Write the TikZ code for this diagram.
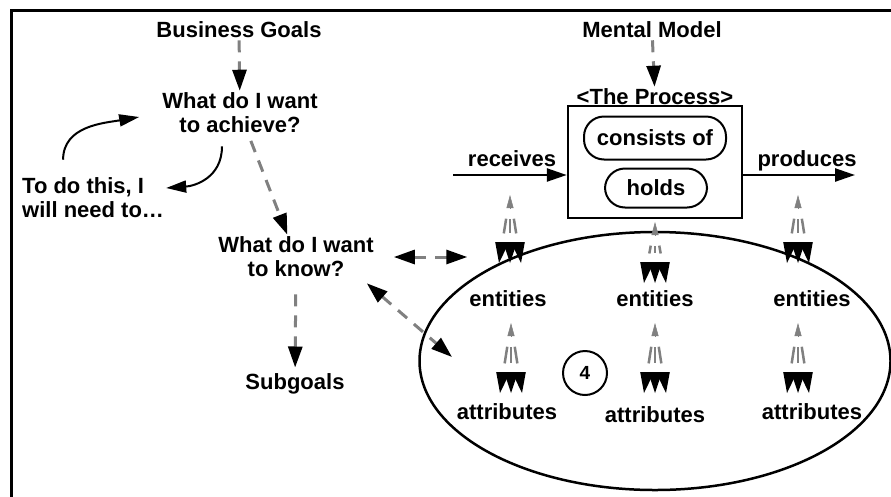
\documentclass[tikz,border=0pt]{standalone}
\usepackage{fontspec}
\setmainfont{Liberation Sans}
\usetikzlibrary{arrows.meta,shapes.geometric,calc}

% one-to-many link: x, top, bottom
\newcommand{\fan}[3]{%
  \draw[graytip] (#1,#2+13) -- (#1,#2);
  \foreach \dx in {-11,0,11}{
    \draw[fanline] ($(#1,#2)!24pt!(#1+\dx,#3)$) -- ($(#1+\dx,#3)!30pt!(#1,#2)$);
    \fill (#1+\dx,#3) -- (#1+0.71*\dx-7,#3-21) -- (#1+0.71*\dx+7,#3-21) -- cycle;
  }}

\begin{document}
\begin{tikzpicture}[x=1pt,y=-1pt,
  txt/.style={font=\fontsize{22}{24}\selectfont\bfseries, inner sep=2pt, align=center},
  dlink/.style={draw=gray, line width=3pt, dash pattern=on 12pt off 9pt,
    -{Triangle[length=21pt,width=14pt,color=black,fill=black]}},
  ddlink/.style={dlink, {Triangle[length=21pt,width=14pt,color=black,fill=black]}-{Triangle[length=21pt,width=14pt,color=black,fill=black]}},
  flow/.style={line width=2.5pt, -{Triangle[length=20pt,width=13pt]}},
  loopline/.style={line width=2pt, -{Triangle[length=20pt,width=12pt]}},
  fanline/.style={draw=gray, line width=2.5pt},
  graytip/.style={draw=gray, line width=0.5pt, -{Triangle[length=13pt,width=7pt,color=gray,fill=gray]}},
  pill/.style={txt, draw, line width=2pt, rounded corners=20pt}]
\useasboundingbox (0,0) rectangle (891,496);
%\draw[help lines,step=50] (0,0) grid (891,496);
\draw[line width=3pt] (11,505) -- (11,10) -- (900,10);

\node[txt] (bgoals) at (239,30) {Business Goals};
\node[txt] (achieve) at (240,113) {What do I want\\to achieve?};
\node[txt,anchor=west,align=left] (todo) at (20,198) {To do this, I\\will need to…};
\node[txt] (know) at (296,257) {What do I want\\to know?};
\node[txt] (subgoals) at (295,384) {Subgoals};

\draw[dlink] (bgoals) -- (achieve);
\draw[dlink,shorten <=6pt] (achieve) -- (know);
\draw[dlink,shorten <=15pt,shorten >=4pt] (know) -- (subgoals);
\draw[loopline] ([xshift=-30pt,yshift=16pt]todo.north) .. controls +(0,-34) and +(-35,6) .. ([xshift=-21pt,yshift=-4pt]achieve.west);
\draw[loopline] ([xshift=-18pt,yshift=-11pt]achieve.south) .. controls +(0,32) and +(28,-2) .. ([yshift=10pt]todo.east);

\node[txt] (mmodel) at (652,30) {Mental Model};
\node[txt] (ptitle) at (655,97) {<The Process>};
\node[draw,line width=2.5pt,minimum width=174pt,minimum height=112pt] (proc) at (655,162) {};
\node[pill,minimum width=142pt,minimum height=43pt] (consists) at (655,138) {consists of};
\node[pill,minimum width=102pt,minimum height=39pt] (holds) at (656,188) {holds};
\draw[dlink] (mmodel) -- (ptitle);

\node[txt] (receives) at (512,159) {receives};
\node[txt] (produces) at (807,161) {produces};
\coordinate (in) at (453,175);
\coordinate (out) at (855,175);
\draw[flow] (in) -- (in -| proc.west);
\draw[flow] (proc.east |- out) -- (out);

\node[draw,ellipse,line width=2.5pt,minimum width=471pt,minimum height=258pt] (model) at (655,361) {};
\node[txt] (ent1) at (508,299) {entities};
\node[txt] (ent2) at (655,299) {entities};
\node[txt] (ent3) at (812,299) {entities};
\node[txt] (attr1) at (507,412) {attributes};
\node[txt] (attr2) at (655,415) {attributes};
\node[txt] (attr3) at (812,412) {attributes};
\node[draw,circle,line width=2pt,minimum size=44pt,inner sep=0pt,font=\fontsize{19}{20}\selectfont\bfseries] (four) at (585,373) {4};

\fan{510}{195}{263}
\fan{655}{222}{283}
\fan{798}{195}{263}
\fan{511}{323}{393}
\fan{655}{323}{393}
\fan{798}{323}{393}

\coordinate (attrin) at (452,357);
\draw[ddlink,shorten <=18pt] (know.east) -- (know.east -| ent1.west);
\draw[ddlink] ([xshift=-9pt,yshift=-4pt]know.south east) -- (attrin);
\end{tikzpicture}
\end{document}
